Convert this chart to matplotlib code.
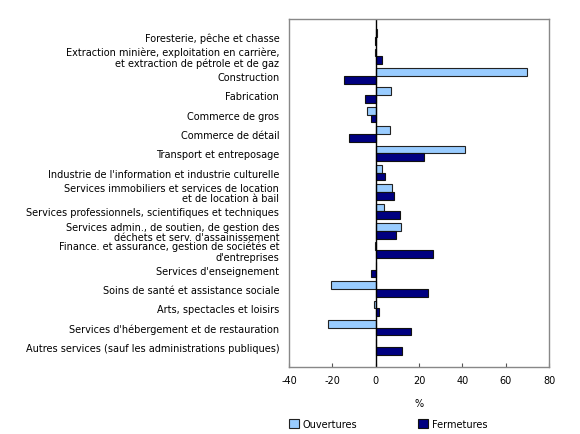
import matplotlib
matplotlib.use("Agg")
import matplotlib.pyplot as plt
import numpy as np

# ── Data ─────────────────────────────────────────────────────────────
categories = [
    "Foresterie, pêche et chasse",
    "Extraction minière, exploitation en carrière,\net extraction de pétrole et de gaz",
    "Construction",
    "Fabrication",
    "Commerce de gros",
    "Commerce de détail",
    "Transport et entreposage",
    "Industrie de l'information et industrie culturelle",
    "Services immobiliers et services de location\net de location à bail",
    "Services professionnels, scientifiques et techniques",
    "Services admin., de soutien, de gestion des\ndéchets et serv. d'assainissement",
    "Finance. et assurance, gestion de sociétés et\nd'entreprises",
    "Services d'enseignement",
    "Soins de santé et assistance sociale",
    "Arts, spectacles et loisirs",
    "Services d'hébergement et de restauration",
    "Autres services (sauf les administrations publiques)",
]
ouvertures = [0.5, -0.5, 69.7, 7.1, -4.2, 6.5, 41.1, 2.8, 7.4, 3.7, 11.5,
              -0.5, 0.2, -20.6, -0.9, -21.8, 0.3]
fermetures = [-0.5, 2.9, -14.6, -5.1, -2.0, -12.3, 22.5, 4.5, 8.5, 11.1, 9.2,
              26.3, -2.0, 24.2, 1.4, 16.3, 12.0]
x_ticks = [-40, -20, 0, 20, 40, 60, 80]

LIGHT = "#99ccff"
DARK = "#000080"
FS = 7

fig = plt.figure(figsize=(5.8, 4.35), dpi=100)
ax = fig.add_axes([289 / 580, 1 - 368 / 435, 260 / 580, 348 / 435])

y = np.arange(len(categories))
h = 0.4
ax.barh(y - h / 2, ouvertures, height=h, color=LIGHT, edgecolor="#222222",
        linewidth=0.8, label="Ouvertures")
ax.barh(y + h / 2, fermetures, height=h, color=DARK, edgecolor="#111111",
        linewidth=0.8, label="Fermetures")
ax.axvline(0, color="black", linewidth=1)

ax.set_xlim(-40, 80)
ax.set_ylim(len(categories) - 1 + 1.03, -0.93)
ax.set_xticks(x_ticks)
ax.set_xticklabels([str(t) for t in x_ticks], fontsize=FS)
ax.tick_params(axis="x", direction="in", length=3, color="#555555", pad=6)
ax.set_yticks(y)
ax.set_yticklabels(categories, fontsize=FS, linespacing=1.05)
ax.tick_params(axis="y", length=0, pad=7)
for sp in ax.spines.values():
    sp.set_color("#888888")
    sp.set_linewidth(1)
ax.set_xlabel("%", fontsize=FS, labelpad=9)

handles, labels = ax.get_legend_handles_labels()
fig.legend(handles, labels, loc="center left", bbox_to_anchor=(289 / 580, 1 - 425 / 435),
           ncol=2, frameon=False, fontsize=FS, handlelength=1.0, handleheight=1.0,
           handletextpad=0.4, columnspacing=6.3, borderpad=0, borderaxespad=0)

fig.savefig("out.png", dpi=100)
